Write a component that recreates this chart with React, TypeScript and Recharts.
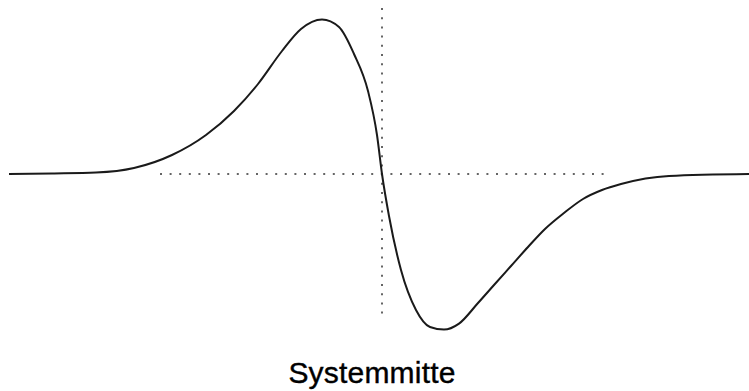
import React from 'react';
import { LineChart, Line, XAxis, YAxis, ReferenceLine } from 'recharts';

// lateral offset from system centre (x) and signal amplitude (y)
const offsets = [
  -373, -330, -286, -248, -210, -176, -148, -124, -100, -81, -60, -43, -28, -14, -5, 0,
  7, 19, 34, 48, 62, 77, 96, 112, 129, 146, 163, 182, 201, 220, 239, 287, 367,
];
const signal = [
  0, 0.6, 1.5, 6, 19, 39, 63, 90, 123, 145, 154.5, 147, 120, 83, 39, 0,
  -42, -96, -136, -153, -155.6, -149.6, -129, -111, -92, -73, -55, -39, -25, -16, -10, -2, 0,
];

const data = offsets.map((x, i) => ({ x, y: signal[i] }));

const centerLabel = 'Systemmitte';

export default function App() {
  return (
    <div style={{ position: 'absolute', left: 0, top: 0, width: 749, height: 391, background: '#fff' }}>
      <LineChart width={749} height={391} data={data} margin={{ top: 0, right: 0, bottom: 0, left: 0 }}>
        <XAxis
          dataKey="x"
          type="number"
          domain={[-382, 367]}
          height={56}
          tick={false}
          axisLine={false}
          tickLine={false}
        />
        <YAxis type="number" domain={[-161, 174]} width={0} hide />
        <ReferenceLine
          segment={[{ x: -222, y: 0 }, { x: 225, y: 0 }]}
          stroke="#333"
          strokeWidth={1.5}
          strokeDasharray="2 7.6"
        />
        <ReferenceLine
          segment={[{ x: 0, y: 166 }, { x: 0, y: -145 }]}
          stroke="#333"
          strokeWidth={1.5}
          strokeDasharray="2 7.2"
        />
        <Line
          type="monotone"
          dataKey="y"
          stroke="#1a1a1a"
          strokeWidth={2}
          strokeDasharray="none"
          dot={false}
          activeDot={false}
          isAnimationActive={false}
        />
      </LineChart>
      <div
        style={{
          position: 'absolute',
          left: 0,
          width: 744,
          top: 356,
          textAlign: 'center',
          fontFamily: "'Liberation Sans', Arial, sans-serif",
          fontSize: 30,
          lineHeight: '34px',
          color: '#000',
          letterSpacing: 0.2,
          WebkitTextStroke: '0.4px #000',
        }}
      >
        {centerLabel}
      </div>
    </div>
  );
}
